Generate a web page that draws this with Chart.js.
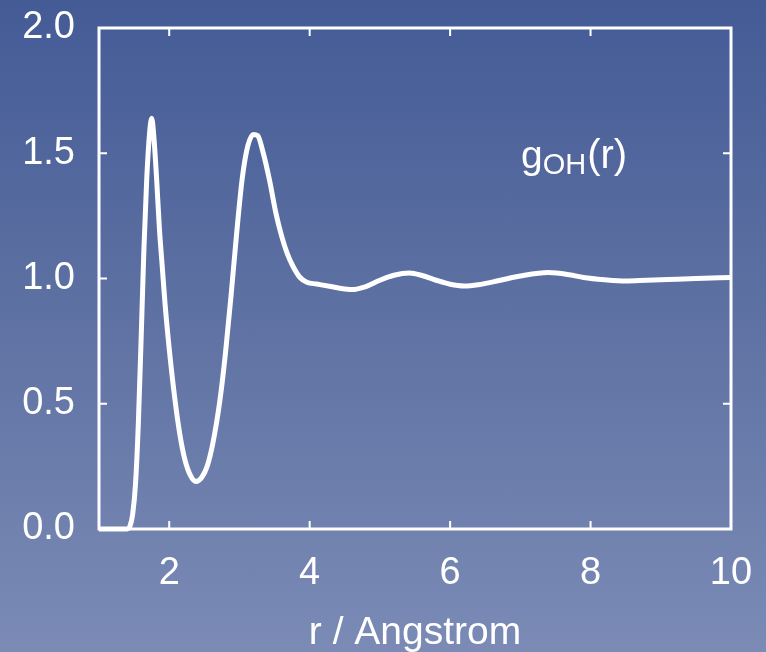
<!DOCTYPE html>
<html>
<head>
<meta charset="utf-8">
<script src="https://cdn.jsdelivr.net/npm/chart.js@4/dist/chart.umd.min.js"></script>
<style>
  html, body { margin: 0; padding: 0; }
  body {
    width: 766px; height: 652px; overflow: hidden;
    background: linear-gradient(to bottom, #445b96 0%, #5f72a3 50%, #7b8bb6 100%);
  }
  #wrap { position: relative; width: 766px; height: 652px; }
</style>
</head>
<body>
<div id="wrap"><canvas id="rdfChart" width="766" height="652"></canvas></div>
<script>
// ---- data: g_OH(r) ----
const rValues = [1.0, 1.2, 1.4, 1.44, 1.48, 1.52, 1.56, 1.60, 1.64, 1.68, 1.72, 1.75, 1.78, 1.82, 1.86, 1.90, 1.94,
  2.00, 2.08, 2.15, 2.22, 2.30, 2.38, 2.46, 2.54, 2.62, 2.72, 2.80, 2.88, 2.96, 3.04, 3.12, 3.20, 3.26, 3.34,
  3.43, 3.52, 3.60, 3.68, 3.76, 3.86, 3.96, 4.10, 4.30, 4.45, 4.60, 4.80, 5.00, 5.20, 5.42, 5.60, 5.80, 6.00,
  6.20, 6.40, 6.70, 7.00, 7.40, 7.70, 7.90, 8.20, 8.50, 8.80, 9.10, 9.50, 10.0];
const gOH = [0, 0, 0, 0.01, 0.06, 0.18, 0.42, 0.76, 1.12, 1.40, 1.58, 1.64, 1.57, 1.40, 1.20, 1.05, 0.90,
  0.72, 0.52, 0.38, 0.28, 0.215, 0.19, 0.205, 0.25, 0.34, 0.51, 0.70, 0.93, 1.18, 1.40, 1.53, 1.575, 1.57, 1.50,
  1.39, 1.26, 1.17, 1.10, 1.05, 1.005, 0.985, 0.978, 0.968, 0.960, 0.956, 0.968, 0.993, 1.013, 1.022, 1.012, 0.993, 0.977,
  0.970, 0.975, 0.992, 1.010, 1.024, 1.015, 1.004, 0.995, 0.990, 0.993, 0.996, 1.0, 1.004];

const xTicks = [2, 4, 6, 8, 10];
const yTicks = [0, 0.5, 1.0, 1.5, 2.0];
const xTitle = "r / Angstrom";
const seriesLabel = { main: "g", sub: "OH", tail: "(r)" };

const FONT = "'Liberation Sans', Arial, sans-serif";

// frame + inward tick marks on all four sides, plus the in-plot label
const framePlugin = {
  id: "frame",
  afterDatasetsDraw(chart) {
    const { ctx, chartArea: a, scales } = chart;
    ctx.save();
    ctx.strokeStyle = "#ffffff";
    ctx.lineWidth = 3;
    ctx.strokeRect(a.left, a.top, a.right - a.left, a.bottom - a.top);
    ctx.lineWidth = 2;
    const len = 8;
    xTicks.forEach(v => {
      const px = scales.x.getPixelForValue(v);
      ctx.beginPath();
      ctx.moveTo(px, a.bottom); ctx.lineTo(px, a.bottom - len);
      ctx.moveTo(px, a.top); ctx.lineTo(px, a.top + len);
      ctx.stroke();
    });
    yTicks.forEach(v => {
      const py = scales.y.getPixelForValue(v);
      ctx.beginPath();
      ctx.moveTo(a.left, py); ctx.lineTo(a.left + len, py);
      ctx.moveTo(a.right, py); ctx.lineTo(a.right - len, py);
      ctx.stroke();
    });

    // g_OH(r) label
    ctx.fillStyle = "#ffffff";
    ctx.textBaseline = "alphabetic";
    ctx.textAlign = "left";
    let x = 521, base = 168;
    ctx.font = "39px " + FONT;
    ctx.fillText(seriesLabel.main, x, base);
    x += ctx.measureText(seriesLabel.main).width;
    ctx.font = "29px " + FONT;
    ctx.fillText(seriesLabel.sub, x, base + 6);
    x += ctx.measureText(seriesLabel.sub).width + 1;
    ctx.font = "40px " + FONT;
    ctx.fillText(seriesLabel.tail, x, base);
    ctx.restore();
  }
};

new Chart(document.getElementById("rdfChart"), {
  type: "line",
  data: {
    datasets: [{
      data: rValues.map((r, i) => ({ x: r, y: gOH[i] })),
      borderColor: "#ffffff",
      borderWidth: 5,
      pointRadius: 0,
      cubicInterpolationMode: "monotone",
      fill: false,
      clip: false
    }]
  },
  options: {
    responsive: false,
    animation: false,
    layout: { padding: { top: 28, right: 35, left: 0, bottom: 0 } },
    plugins: { legend: { display: false }, tooltip: { enabled: false } },
    scales: {
      x: {
        type: "linear",
        min: 1, max: 10,
        grid: { display: false, drawTicks: false },
        border: { display: false },
        afterBuildTicks: s => { s.ticks = xTicks.map(v => ({ value: v })); },
        afterFit: s => { s.height = 123; s.paddingLeft = 0; s.paddingRight = 0; },
        ticks: {
          color: "#ffffff",
          padding: 22,
          maxRotation: 0,
          font: { family: FONT, size: 38 },
          callback: v => String(v)
        },
        title: {
          display: true,
          text: xTitle,
          color: "#ffffff",
          font: { family: FONT, size: 39 },
          padding: { top: 0, bottom: -5 }
        }
      },
      y: {
        type: "linear",
        min: 0, max: 2,
        grid: { display: false, drawTicks: false },
        border: { display: false },
        afterBuildTicks: s => { s.ticks = yTicks.map(v => ({ value: v })); },
        afterFit: s => { s.width = 99; s.paddingTop = 0; s.paddingBottom = 0; },
        ticks: {
          color: "#ffffff",
          padding: 24,
          font: { family: FONT, size: 38 },
          callback: v => Number(v).toFixed(1)
        }
      }
    }
  },
  plugins: [framePlugin]
});
</script>
</body>
</html>
